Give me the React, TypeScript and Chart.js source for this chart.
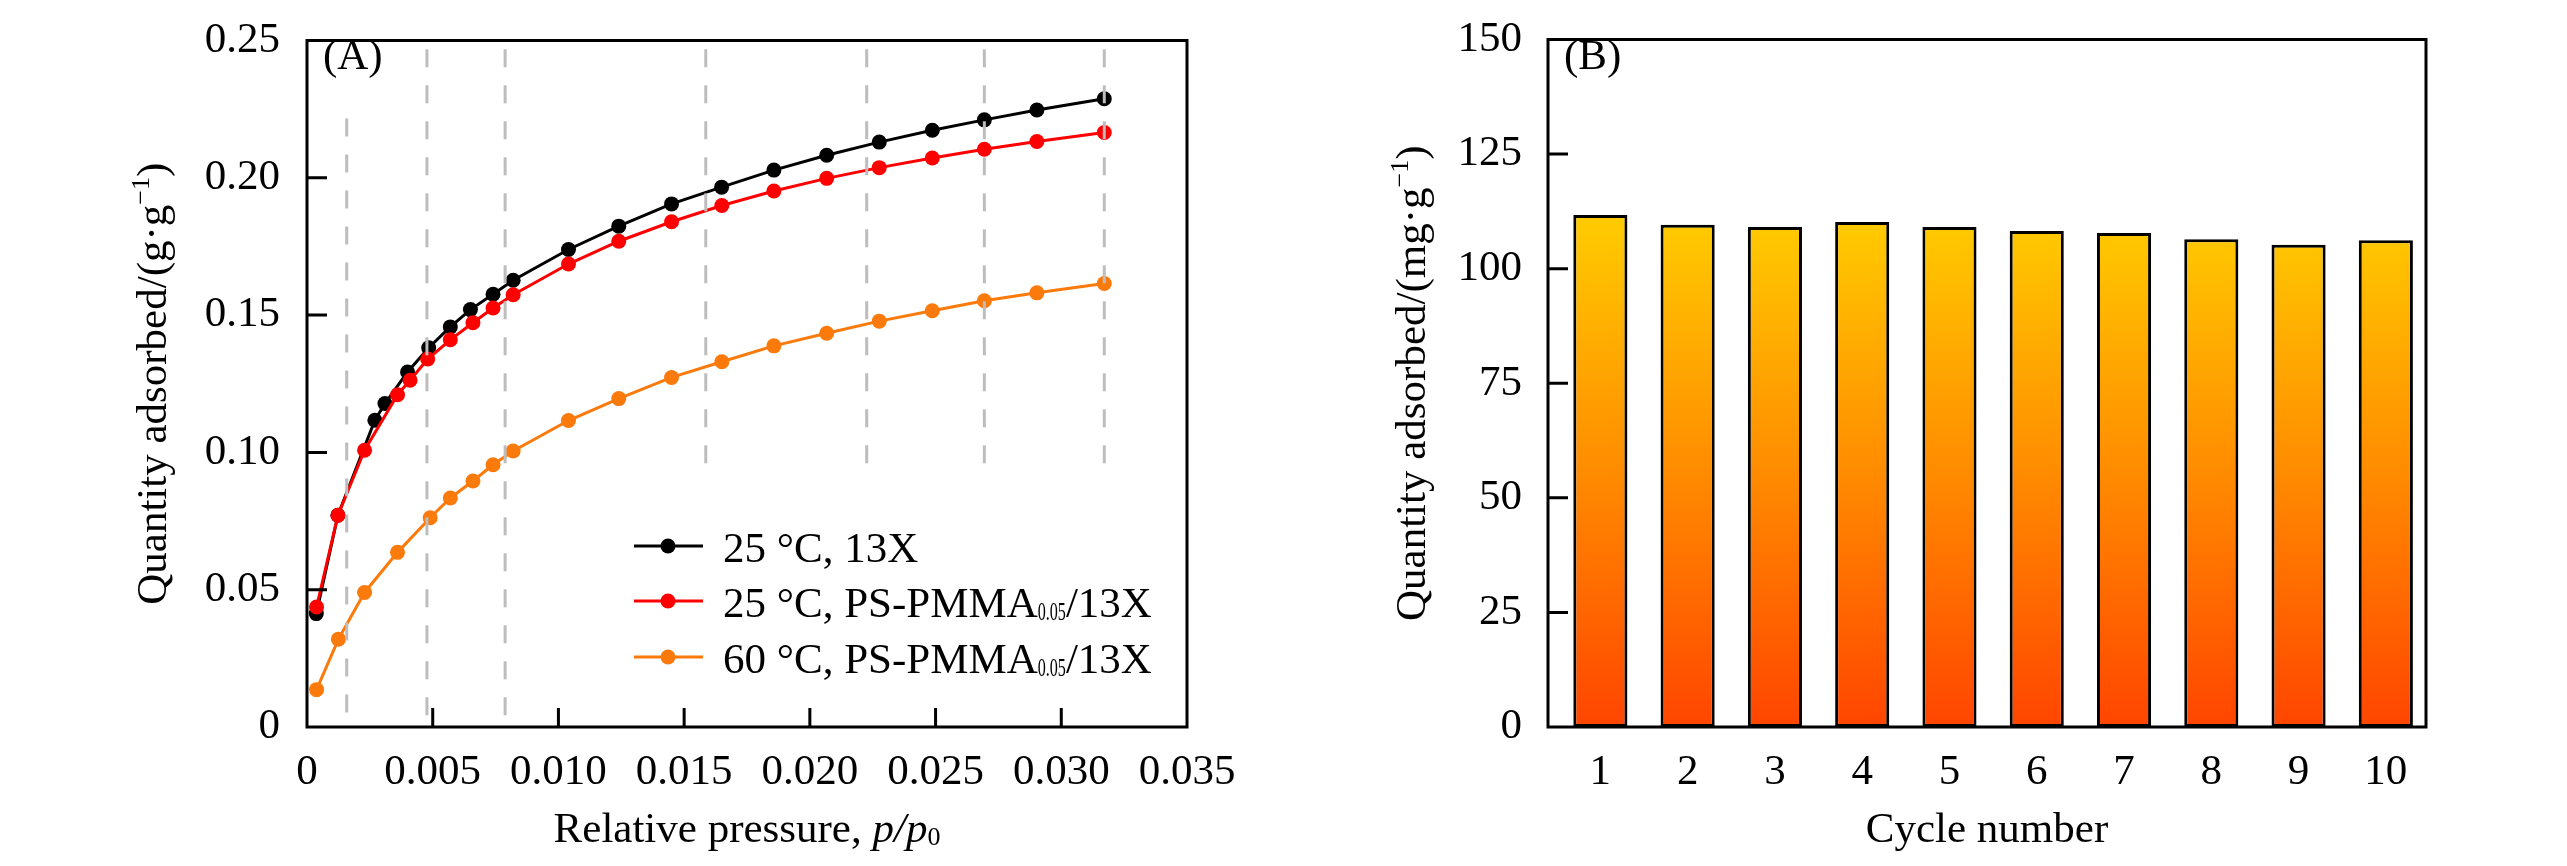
import { useEffect, useRef } from 'react'
import Chart from 'chart.js/auto'

const FONT = '"Liberation Serif", "Times New Roman", serif'
const FS = 43

const BLACK = '#000000'
const RED = '#ff0000'
const ORANGE = '#fb7a0c'
const GUIDE = '#bdbdbd'

// (A) adsorption isotherms, x = p/p0, y = g/g
const pressure13X = [0.00037, 0.00123, 0.0027, 0.0031, 0.004, 0.00484, 0.0057, 0.0065, 0.0074, 0.0082, 0.0104, 0.0124, 0.0145, 0.01649, 0.01857, 0.02067, 0.02276, 0.02487, 0.02694, 0.02903, 0.03171]
const uptake13X = [0.0413, 0.0771, 0.1117, 0.1178, 0.1293, 0.1381, 0.1457, 0.152, 0.1576, 0.1627, 0.1739, 0.1824, 0.1905, 0.1966, 0.2028, 0.2082, 0.213, 0.2173, 0.2211, 0.2247, 0.2288]

const pressurePS25 = [0.00038, 0.00123, 0.00229, 0.0036, 0.0041, 0.0048, 0.0057, 0.0066, 0.0074, 0.0082, 0.0104, 0.0124, 0.0145, 0.0165, 0.01857, 0.02067, 0.02276, 0.02487, 0.02694, 0.02903, 0.03171]
const uptakePS25 = [0.0437, 0.0771, 0.1008, 0.121, 0.1263, 0.134, 0.141, 0.1472, 0.1526, 0.1574, 0.1686, 0.1769, 0.184, 0.1899, 0.1952, 0.1998, 0.2037, 0.2072, 0.2104, 0.2132, 0.2165]

const pressurePS60 = [0.00038, 0.00125, 0.00229, 0.0036, 0.0049, 0.0057, 0.0066, 0.0074, 0.0082, 0.0104, 0.0124, 0.0145, 0.0165, 0.01857, 0.02067, 0.02276, 0.02487, 0.02694, 0.02903, 0.03171]
const uptakePS60 = [0.0136, 0.032, 0.049, 0.0636, 0.0762, 0.0834, 0.0896, 0.0955, 0.1005, 0.1116, 0.1196, 0.1273, 0.133, 0.1388, 0.1434, 0.1478, 0.1516, 0.1552, 0.1581, 0.1615]

// grey dashed guide lines
const guideX = [0.00158, 0.00477, 0.00788, 0.01586, 0.02226, 0.02694, 0.03171]
const guideTop = [0.2216, 0.2468, 0.2468, 0.2468, 0.2468, 0.2468, 0.2468]
const guideBottom = [0.0043, 0.0043, 0.0043, 0.0902, 0.0902, 0.0902, 0.0902]

const pressureTicks = [0, 0.005, 0.01, 0.015, 0.02, 0.025, 0.03, 0.035]
const uptakeTicks = [0, 0.05, 0.1, 0.15, 0.2, 0.25]

// (B) cycling stability, mg/g
const cycles = [1, 2, 3, 4, 5, 6, 7, 8, 9, 10]
const cycleUptake = [111.7, 109.6, 109.1, 110.2, 109.1, 108.2, 107.8, 106.4, 105.2, 106.2]
const cycleUptakeTicks = [0, 25, 50, 75, 100, 125, 150]

type Seg = { t: string; italic?: boolean; sub?: boolean; sup?: boolean; sx?: number }

const legendRows: { color: string; segs: Seg[] }[] = [
  { color: BLACK, segs: [{ t: '25 °C, 13X' }] },
  { color: RED, segs: [{ t: '25 °C, PS-PMMA' }, { t: '0.05', sub: true, sx: 0.62 }, { t: '/13X' }] },
  { color: ORANGE, segs: [{ t: '60 °C, PS-PMMA' }, { t: '0.05', sub: true, sx: 0.62 }, { t: '/13X' }] },
]

const toPoints = (xs: number[], ys: number[]) => xs.map((x, i) => ({ x, y: ys[i] }))

function segFont(s: Seg, size: number) {
  const sz = s.sub || s.sup ? Math.round(size * 0.6) : size
  return `${s.italic ? 'italic ' : ''}${sz}px ${FONT}`
}

function drawRich(ctx: CanvasRenderingContext2D, segs: Seg[], x: number, y: number, size: number, align: 'left' | 'center') {
  let total = 0
  const widths = segs.map(s => {
    ctx.font = segFont(s, size)
    const w = ctx.measureText(s.t).width * (s.sx ?? 1)
    total += w
    return w
  })
  let cx = align === 'center' ? x - total / 2 : x
  ctx.textAlign = 'left'
  ctx.textBaseline = 'alphabetic'
  segs.forEach((s, i) => {
    ctx.font = segFont(s, size)
    const dy = s.sub ? size * 0.07 : s.sup ? -size * 0.4 : 0
    ctx.save()
    ctx.translate(cx, y + dy)
    ctx.scale(s.sx ?? 1, 1)
    ctx.fillText(s.t, 0, 0)
    ctx.restore()
    cx += widths[i]
  })
}

const framePlugin = {
  id: 'frame',
  afterDraw(chart: any, _args: any, opts: any) {
    const ctx: CanvasRenderingContext2D = chart.ctx
    const { left, top, right, bottom } = chart.chartArea
    ctx.save()
    ctx.strokeStyle = '#000'
    ctx.fillStyle = '#000'
    ctx.lineWidth = 3
    ctx.strokeRect(left, top, right - left, bottom - top)

    // inward ticks
    const yScale = chart.scales.y
    const xScale = chart.scales.x
    ctx.beginPath()
    for (const v of opts.yTicks ?? []) {
      const py = yScale.getPixelForValue(v)
      ctx.moveTo(left, py)
      ctx.lineTo(left + 20, py)
    }
    for (const v of opts.xTicks ?? []) {
      const px = xScale.getPixelForValue(v)
      ctx.moveTo(px, bottom)
      ctx.lineTo(px, bottom - 19)
    }
    ctx.stroke()

    // panel label
    ctx.font = `${FS}px ${FONT}`
    ctx.textAlign = 'left'
    ctx.textBaseline = 'alphabetic'
    ctx.fillText(opts.panel, left + 16, 69)

    // axis titles
    drawRich(ctx, opts.xTitle, (left + right) / 2, 842, FS, 'center')
    ctx.save()
    ctx.translate(opts.yTitleX, (top + bottom) / 2)
    ctx.rotate(-Math.PI / 2)
    drawRich(ctx, opts.yTitle, 0, 0, FS, 'center')
    ctx.restore()

    // legend
    if (opts.legend) {
      const rowsY = [546, 601, 657]
      legendRows.forEach((row, i) => {
        const y = rowsY[i]
        ctx.strokeStyle = row.color
        ctx.fillStyle = row.color
        ctx.lineWidth = 3
        ctx.beginPath()
        ctx.moveTo(634, y)
        ctx.lineTo(703, y)
        ctx.stroke()
        ctx.beginPath()
        ctx.arc(668, y, 7.5, 0, Math.PI * 2)
        ctx.fill()
        ctx.fillStyle = '#000'
        drawRich(ctx, row.segs, 723, y + 16, FS, 'left')
      })
    }
    ctx.restore()
  },
}

const tickFont = { family: FONT, size: FS, lineHeight: 1 }

function IsothermChart() {
  const ref = useRef<HTMLCanvasElement | null>(null)

  useEffect(() => {
    if (!ref.current) return
    const series = (xs: number[], ys: number[], color: string, order: number) => ({
      data: toPoints(xs, ys),
      borderColor: color,
      backgroundColor: color,
      pointBackgroundColor: color,
      borderWidth: 3,
      pointRadius: 7.5,
      pointBorderWidth: 0,
      tension: 0,
      order,
    })
    const chart = new Chart(ref.current, {
      type: 'line',
      data: {
        datasets: [
          ...guideX.map((x, i) => ({
            data: [{ x, y: guideTop[i] }, { x, y: guideBottom[i] }],
            borderColor: GUIDE,
            borderWidth: 3,
            borderDash: [18, 18],
            pointRadius: 0,
            order: 0,
          })),
          series(pressurePS60, uptakePS60, ORANGE, 1),
          series(pressurePS25, uptakePS25, RED, 2),
          series(pressure13X, uptake13X, BLACK, 3),
        ] as any,
      },
      options: {
        animation: false,
        responsive: true,
        maintainAspectRatio: false,
        events: [],
        layout: { padding: { left: 0, top: 23, right: 93, bottom: 0 } },
        plugins: {
          legend: { display: false },
          tooltip: { enabled: false },
          frame: {
            panel: '(A)',
            xTicks: pressureTicks.slice(1, -1),
            yTicks: uptakeTicks.slice(1, -1),
            xTitle: [{ t: 'Relative pressure, ' }, { t: 'p/p', italic: true }, { t: '0', sub: true }],
            yTitle: [{ t: 'Quantity adsorbed/(g·g' }, { t: '−1', sup: true }, { t: ')' }],
            yTitleX: 166,
            legend: true,
          },
        } as any,
        scales: {
          x: {
            type: 'linear',
            min: 0,
            max: 0.035,
            grid: { display: false },
            border: { display: false },
            afterFit: (s: any) => { s.height = 139 },
            afterBuildTicks: (s: any) => { s.ticks = pressureTicks.map(value => ({ value })) },
            ticks: {
              font: tickFont,
              color: '#000',
              padding: 16,
              maxRotation: 0,
              autoSkip: false,
              callback: (v: any) => (Number(v) === 0 ? '0' : Number(v).toFixed(3)),
            },
          },
          y: {
            min: 0,
            max: 0.25,
            grid: { display: false },
            border: { display: false },
            afterFit: (s: any) => { s.width = 307 },
            afterBuildTicks: (s: any) => { s.ticks = uptakeTicks.map(value => ({ value })) },
            ticks: {
              font: tickFont,
              color: '#000',
              padding: 19,
              callback: (v: any) => (Number(v) === 0 ? '0' : Number(v).toFixed(2)),
            },
          },
        },
      },
      plugins: [framePlugin],
    })
    return () => chart.destroy()
  }, [])

  return <canvas ref={ref} />
}

function CycleChart() {
  const ref = useRef<HTMLCanvasElement | null>(null)

  useEffect(() => {
    if (!ref.current) return
    const barFill = (c: any) => {
      const y = c.chart.scales?.y
      const y0 = y ? y.getPixelForValue(Math.max(...cycleUptake)) : NaN
      const y1 = y ? y.getPixelForValue(0) : NaN
      if (!Number.isFinite(y0) || !Number.isFinite(y1)) return '#ff9900'
      const g = c.chart.ctx.createLinearGradient(0, y0, 0, y1)
      g.addColorStop(0, '#ffcc00')
      g.addColorStop(0.5, '#ff8c00')
      g.addColorStop(1, '#ff4500')
      return g
    }
    const chart = new Chart(ref.current, {
      type: 'bar',
      data: {
        datasets: [
          {
            data: toPoints(cycles, cycleUptake),
            backgroundColor: barFill,
            borderColor: '#000',
            borderWidth: 3,
            borderSkipped: false,
            barPercentage: 0.62,
            categoryPercentage: 1,
          },
        ] as any,
      },
      options: {
        animation: false,
        responsive: true,
        maintainAspectRatio: false,
        events: [],
        layout: { padding: { left: 0, top: 23, right: 141, bottom: 0 } },
        plugins: {
          legend: { display: false },
          tooltip: { enabled: false },
          frame: {
            panel: '(B)',
            xTicks: [],
            yTicks: cycleUptakeTicks.slice(1, -1),
            xTitle: [{ t: 'Cycle number' }],
            yTitle: [{ t: 'Quantity adsorbed/(mg·g' }, { t: '−1', sup: true }, { t: ')' }],
            yTitleX: 145,
            legend: false,
          },
        } as any,
        scales: {
          x: {
            type: 'linear',
            min: 0.4,
            max: 10.46,
            offset: false,
            grid: { display: false },
            border: { display: false },
            afterFit: (s: any) => { s.height = 139 },
            afterBuildTicks: (s: any) => { s.ticks = cycles.map(value => ({ value })) },
            ticks: { font: tickFont, color: '#000', padding: 16, maxRotation: 0, autoSkip: false },
          },
          y: {
            min: 0,
            max: 150,
            grid: { display: false },
            border: { display: false },
            afterFit: (s: any) => { s.width = 268 },
            afterBuildTicks: (s: any) => { s.ticks = cycleUptakeTicks.map(value => ({ value })) },
            ticks: { font: tickFont, color: '#000', padding: 18 },
          },
        },
      },
      plugins: [framePlugin],
    })
    return () => chart.destroy()
  }, [])

  return <canvas ref={ref} />
}

export default function App() {
  return (
    <div style={{ position: 'fixed', left: 0, top: 0, width: 2567, height: 866, background: '#fff' }}>
      <div style={{ position: 'absolute', left: 0, top: 0, width: 1280, height: 866 }}>
        <IsothermChart />
      </div>
      <div style={{ position: 'absolute', left: 1280, top: 0, width: 1287, height: 866 }}>
        <CycleChart />
      </div>
    </div>
  )
}
